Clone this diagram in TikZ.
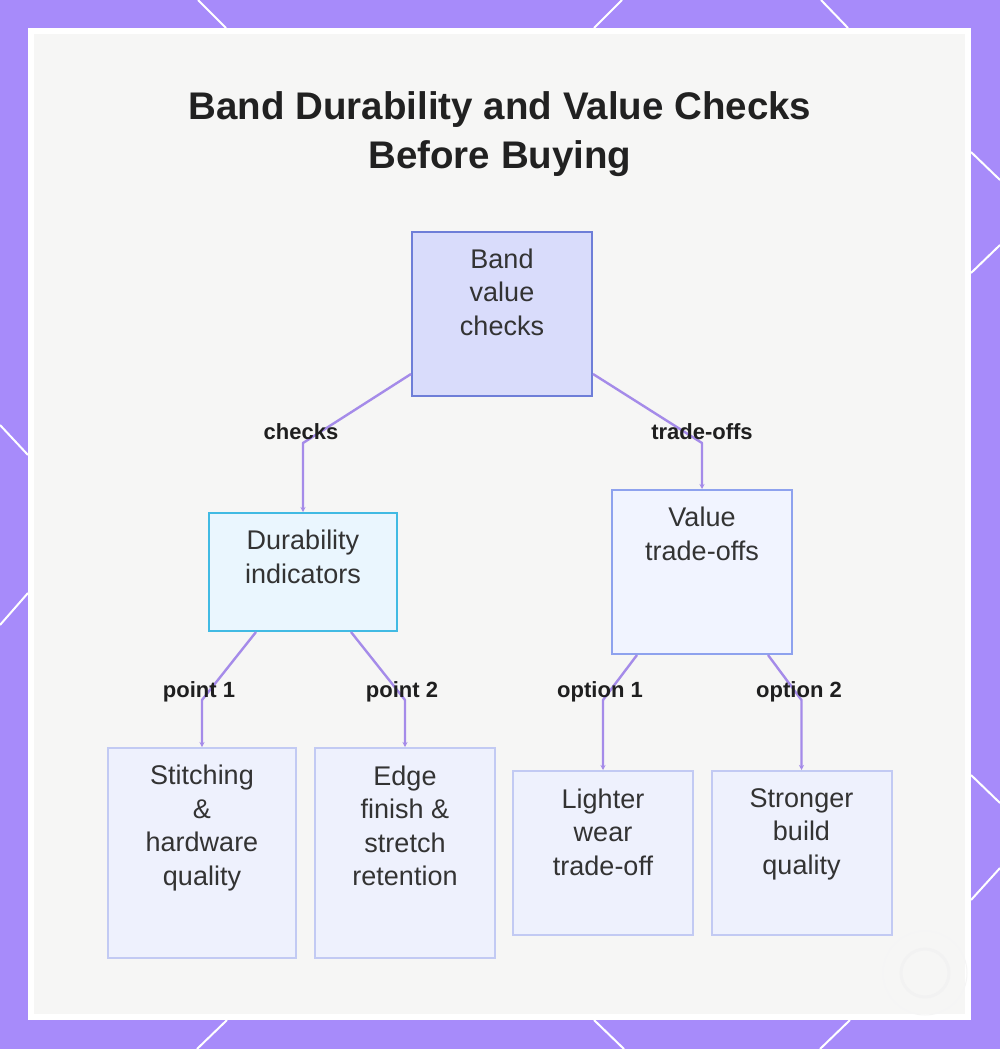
\documentclass[tikz,border=0pt]{standalone}
\usepackage{fontspec}
\setmainfont{Liberation Sans}
\usetikzlibrary{arrows.meta}
\definecolor{frame}{HTML}{A78BFA}
\definecolor{bgc}{HTML}{F6F6F5}
\definecolor{conn}{HTML}{A58BE9}
\definecolor{txt}{HTML}{333333}
\definecolor{rootfill}{HTML}{D9DCFB}
\definecolor{rootdraw}{HTML}{6E7ED8}
\definecolor{durfill}{HTML}{EAF6FE}
\definecolor{durdraw}{HTML}{41BAE3}
\definecolor{valfill}{HTML}{F1F4FF}
\definecolor{valdraw}{HTML}{8EA2EE}
\definecolor{leaffill}{HTML}{EEF1FD}
\definecolor{leafdraw}{HTML}{C2CAF3}
\tikzset{
  box/.style={rectangle, line width=2pt, inner sep=0pt},
  boxtext/.style={text=txt, align=center, font=\fontsize{27}{33.5}\selectfont, inner sep=0pt},
  conn/.style={draw=conn, line width=2.4pt, line join=round, -{Stealth[length=5pt,width=5pt]}},
  elabel/.style={text=black!88, font=\bfseries\fontsize{22}{26}\selectfont, inner sep=0pt, anchor=base},
  deco/.style={white, line width=2pt}
}
\begin{document}
\begin{tikzpicture}[x=1pt,y=-1pt]
\useasboundingbox (0,0) rectangle (1000,1049);
\fill[frame] (0,0) rectangle (1000,1049);
% decorative lines on the frame
\draw[deco] (198,0) -- (226,28);
\draw[deco] (622,0) -- (594,28);
\draw[deco] (821,0) -- (848,28);
\draw[deco] (971,152) -- (1000,180);
\draw[deco] (971,273) -- (1000,245);
\draw[deco] (971,775) -- (1000,803);
\draw[deco] (971,900) -- (1000,868);
\draw[deco] (227,1020) -- (197,1049);
\draw[deco] (594,1020) -- (624,1049);
\draw[deco] (850,1020) -- (820,1049);
\draw[deco] (0,425) -- (28,455);
\draw[deco] (28,593) -- (0,625);
% panel
\fill[white] (28,28) rectangle (971,1020);
\fill[bgc] (34,34) rectangle (965,1014);
% faint watermark
\draw[black!4, line width=1pt] (925,973) circle (42);
\draw[black!5, line width=3pt] (925,973) circle (24);

% title
\node[font=\bfseries\fontsize{38.5}{49}\selectfont, text=black!87, anchor=base] (title1) at (500,119) {Band Durability and Value Checks};
\node[font=\bfseries\fontsize{38.5}{49}\selectfont, text=black!87, anchor=base] (title2) at (500,168) {Before Buying};

% boxes
\node[box, fill=rootfill, draw=rootdraw, minimum width=180pt, minimum height=164pt] (root) at (502,314) {};
\node[box, fill=durfill, draw=durdraw, minimum width=188pt, minimum height=118pt] (dur) at (303,572) {};
\node[box, fill=valfill, draw=valdraw, minimum width=180pt, minimum height=164pt] (val) at (702,572) {};
\node[box, fill=leaffill, draw=leafdraw, minimum width=188pt, minimum height=210pt] (stitch) at (202,853) {};
\node[box, fill=leaffill, draw=leafdraw, minimum width=180pt, minimum height=210pt] (edge) at (405,853) {};
\node[box, fill=leaffill, draw=leafdraw, minimum width=180pt, minimum height=164pt] (light) at (603,853) {};
\node[box, fill=leaffill, draw=leafdraw, minimum width=180pt, minimum height=164pt] (strong) at (801.5,853) {};

% box texts
\node[boxtext] (roott) at (502,292) {Band\\value\\checks};
\node[boxtext] (durt) at (303,557) {Durability\\indicators};
\node[boxtext] (valt) at (702,534) {Value\\trade-offs};
\node[boxtext] (stitcht) at (202,828) {Stitching\\\&\\hardware\\quality};
\node[boxtext] (edget) at (405,826) {Edge\\finish \&\\stretch\\retention};
\node[boxtext] (lightt) at (603,832) {Lighter\\wear\\trade-off};
\node[boxtext] (strongt) at (801.5,834) {Stronger\\build\\quality};

% bend points
\coordinate (b1) at (303,443);
\coordinate (b2) at (702,443);
\coordinate (b3) at (202,700);
\coordinate (b4) at (405,700);
\coordinate (b5) at (603,700);
\coordinate (b6) at (801.5,700);

% connectors
\draw[conn] ([yshift=23pt]root.south west) -- (b1) -- (dur.north);
\draw[conn] ([yshift=23pt]root.south east) -- (b2) -- (val.north);
\draw[conn] ([xshift=48pt]dur.south west) -- (b3) -- (stitch.north);
\draw[conn] ([xshift=-47pt]dur.south east) -- (b4) -- (edge.north);
\draw[conn] ([xshift=26pt]val.south west) -- (b5) -- (light.north);
\draw[conn] ([xshift=-25pt]val.south east) -- (b6) -- (strong.north);

% connector labels
\node[elabel] (l1) at (301,439) {checks};
\node[elabel] (l2) at (702,439) {trade-offs};
\node[elabel] (l3) at (199,697) {point 1};
\node[elabel] (l4) at (402,697) {point 2};
\node[elabel] (l5) at (600,697) {option 1};
\node[elabel] (l6) at (799,697) {option 2};
\end{tikzpicture}
\end{document}
